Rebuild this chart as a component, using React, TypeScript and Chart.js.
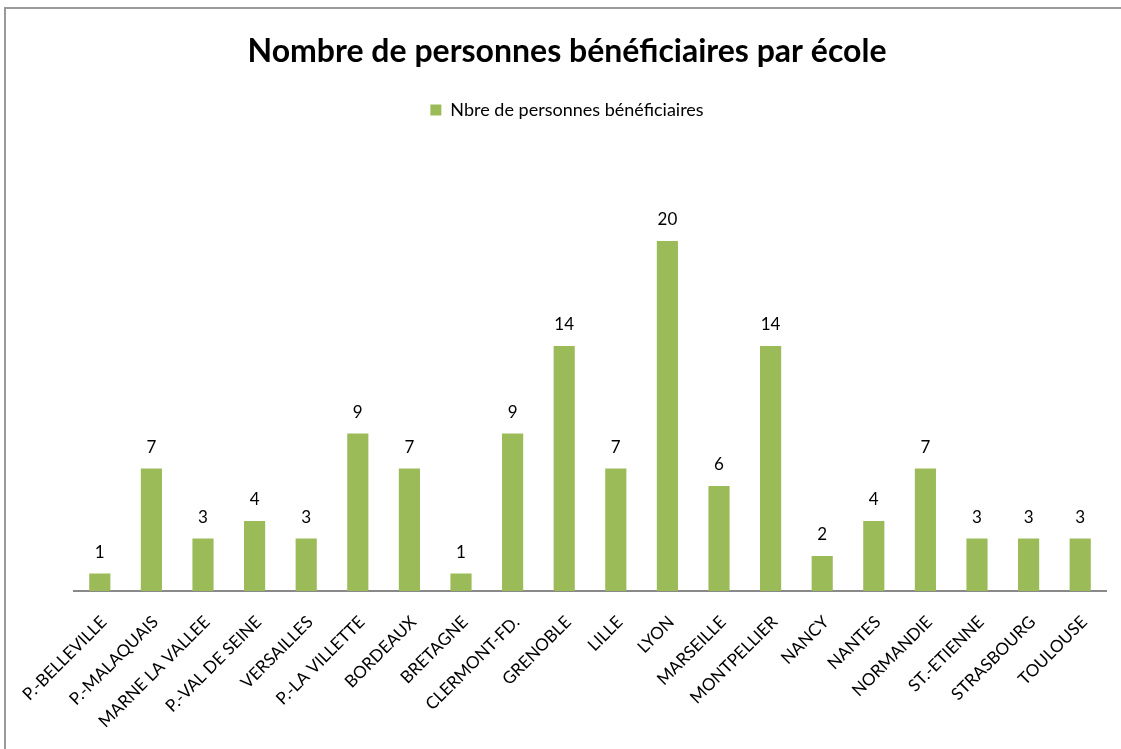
import React, { useEffect, useRef } from "react";
import { Chart, registerables } from "chart.js";

Chart.register(...registerables);

const categories = [
  "P.-BELLEVILLE",
  "P.-MALAQUAIS",
  "MARNE LA VALLEE",
  "P.-VAL DE SEINE",
  "VERSAILLES",
  "P.-LA VILLETTE",
  "BORDEAUX",
  "BRETAGNE",
  "CLERMONT-FD.",
  "GRENOBLE",
  "LILLE",
  "LYON",
  "MARSEILLE",
  "MONTPELLIER",
  "NANCY",
  "NANTES",
  "NORMANDIE",
  "ST.-ETIENNE",
  "STRASBOURG",
  "TOULOUSE",
];

const beneficiaires = [1, 7, 3, 4, 3, 9, 7, 1, 9, 14, 7, 20, 6, 14, 2, 4, 7, 3, 3, 3];

const seriesLabel = "Nbre de personnes bénéficiaires";
const chartTitle = "Nombre de personnes bénéficiaires par école";

const FONT = "Lato, 'Open Sans', sans-serif";

const valueLabels = {
  id: "valueLabels",
  afterDatasetsDraw(chart: any) {
    const ctx = chart.ctx;
    const meta = chart.getDatasetMeta(0);
    const data = chart.data.datasets[0].data;
    ctx.save();
    ctx.font = `17px ${FONT}`;
    ctx.fillStyle = "#000";
    ctx.textAlign = "center";
    ctx.textBaseline = "middle";
    meta.data.forEach((bar: any, i: number) => {
      ctx.fillText(String(data[i]), bar.x, bar.y - 21);
    });
    ctx.restore();
  },
};

export default function App() {
  const canvasRef = useRef<HTMLCanvasElement | null>(null);

  useEffect(() => {
    document.body.style.margin = "0";
    const canvas = canvasRef.current;
    if (!canvas) return;
    const chart = new Chart(canvas, {
      type: "bar",
      data: {
        labels: categories,
        datasets: [
          {
            label: seriesLabel,
            data: beneficiaires,
            backgroundColor: "#9BBB59",
            borderWidth: 0,
            barPercentage: 0.41,
            categoryPercentage: 1,
          },
        ],
      },
      options: {
        responsive: false,
        animation: false,
        layout: { padding: { top: 10, left: 28, right: 15, bottom: 0 } },
        plugins: {
          title: {
            display: true,
            text: chartTitle,
            color: "#000",
            font: { family: FONT, size: 32, weight: "bold" },
            padding: { top: 22.8, bottom: 19.8 },
          },
          subtitle: {
            display: true,
            text: "",
            weight: 500,
            font: { size: 1, lineHeight: 1 },
            padding: { top: 0, bottom: 23.5 },
          } as any,
          legend: {
            display: true,
            position: "top",
            labels: {
              color: "#000",
              font: { family: FONT, size: 18 },
              boxWidth: 11,
              boxHeight: 11,
              padding: 10,
            },
          },
          tooltip: { enabled: false },
        },
        scales: {
          x: {
            grid: { display: false },
            border: { display: true, color: "#898989", width: 2 },
            ticks: {
              color: "#000",
              font: { family: FONT, size: 17 },
              minRotation: 45,
              maxRotation: 45,
              autoSkip: false,
              padding: 13,
              labelOffset: 4,
            },
            afterFit: (scale: any) => {
              scale.height = 749 - 591;
            },
          },
          y: {
            display: true,
            min: 0,
            max: 25,
            grid: { display: false },
            border: { display: false },
            ticks: { display: false },
            afterFit: (scale: any) => {
              scale.width = 46;
            },
          },
        },
      },
      plugins: [valueLabels],
    });
    return () => chart.destroy();
  }, []);

  return (
    <div style={{ position: "relative", width: 1121, height: 749, background: "#fff" }}>
      <div
        style={{
          position: "absolute",
          left: 4,
          top: 7,
          right: 0,
          bottom: 0,
          borderTop: "2px solid #9a9a9a",
          borderLeft: "2px solid #9a9a9a",
          pointerEvents: "none",
        }}
      />
      <canvas ref={canvasRef} width={1121} height={749} style={{ display: "block" }} />
    </div>
  );
}
